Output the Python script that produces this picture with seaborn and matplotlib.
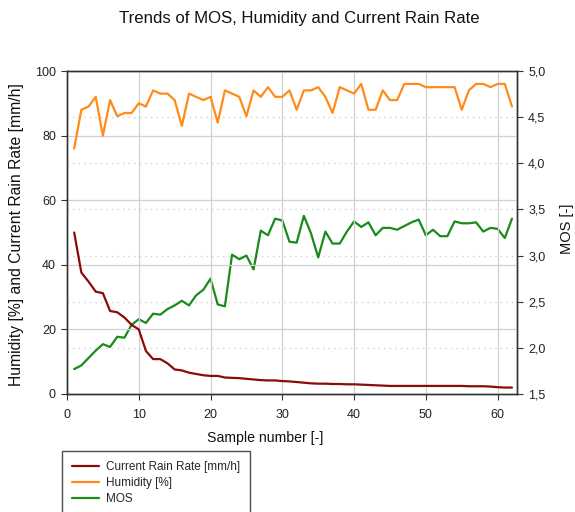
import numpy as np
import pandas as pd
import matplotlib
matplotlib.use("Agg")
import matplotlib.pyplot as plt
import matplotlib.ticker as mticker
import seaborn as sns

sns.set_style("ticks")
plt.rcParams['font.family'] = ['Liberation Sans', 'DejaVu Sans']

# values
samples = list(range(1, 63))
humidity = [76, 88, 89, 92, 80, 91, 86, 87, 87, 90,
            89, 94, 93, 93, 91, 83, 93, 92, 91, 92,
            84, 94, 93, 92, 86, 94, 92, 95, 92, 92,
            94, 88, 94, 94, 95, 92, 87, 95, 94, 93,
            96, 88, 88, 94, 91, 91, 96, 96, 96, 95,
            95, 95, 95, 95, 88, 94, 96, 96, 95, 96,
            96, 89]
rain_rate = [50.0, 37.6, 34.8, 31.7, 31.2, 25.7, 25.3, 23.7, 21.4, 20.0,
             13.3, 10.8, 10.8, 9.5, 7.6, 7.3, 6.6, 6.2, 5.8, 5.6,
             5.6, 5.1, 5.0, 4.9, 4.7, 4.5, 4.3, 4.2, 4.2, 4.0,
             3.9, 3.7, 3.5, 3.3, 3.2, 3.2, 3.1, 3.1, 3.0, 3.0,
             2.9, 2.8, 2.7, 2.6, 2.5, 2.5, 2.5, 2.5, 2.5, 2.5,
             2.5, 2.5, 2.5, 2.5, 2.5, 2.4, 2.4, 2.4, 2.3, 2.1,
             2.0, 2.0]
mos = [1.77, 1.81, 1.89, 1.97, 2.04, 2.01, 2.12, 2.11, 2.25, 2.31,
       2.27, 2.37, 2.36, 2.42, 2.46, 2.51, 2.46, 2.57, 2.63, 2.75,
       2.47, 2.45, 3.01, 2.96, 3.00, 2.85, 3.27, 3.22, 3.40, 3.38,
       3.15, 3.14, 3.43, 3.24, 2.98, 3.26, 3.13, 3.13, 3.26, 3.37,
       3.31, 3.36, 3.22, 3.30, 3.30, 3.28, 3.32, 3.36, 3.39, 3.22,
       3.28, 3.21, 3.21, 3.37, 3.35, 3.35, 3.36, 3.26, 3.30, 3.29,
       3.19, 3.40]

df = pd.DataFrame({"sample": samples, "humidity": humidity,
                   "rain": rain_rate, "mos": mos})

c_rain = "#8b0a0a"
c_hum = "#ff8c1a"
c_mos = "#1a8a1a"

fig = plt.figure(figsize=(5.75, 5.12), dpi=100)
ax = fig.add_axes([67 / 575, 1 - 394 / 512, 450 / 575, 323 / 512])
ax2 = ax.twinx()

sns.lineplot(data=df, x="sample", y="rain", ax=ax, color=c_rain, lw=1.6,
             label="Current Rain Rate [mm/h]", legend=False)
sns.lineplot(data=df, x="sample", y="humidity", ax=ax, color=c_hum, lw=1.6,
             label="Humidity [%]", legend=False)
sns.lineplot(data=df, x="sample", y="mos", ax=ax2, color=c_mos, lw=1.6,
             label="MOS", legend=False)

ax.set_xlim(0, 62.7)
ax.set_ylim(0, 100)
ax2.set_ylim(1.5, 5.0)
ax.set_xticks(range(0, 61, 10))
ax.set_yticks(range(0, 101, 20))
ax2.set_yticks(np.arange(1.5, 5.01, 0.5))
ax2.yaxis.set_major_formatter(mticker.FuncFormatter(lambda v, p: f"{v:.1f}".replace(".", ",")))

# grids: solid for left axis / x, dotted for MOS
ax.grid(True, color="#d0d0d0", lw=0.9, ls="-")
ax2.grid(True, axis="y", color="#d0d0d0", lw=1.0, ls=(0, (1, 3)))
ax.set_axisbelow(True)
ax2.set_zorder(ax.get_zorder() - 1)
ax.patch.set_visible(False)

for a in (ax, ax2):
    for s in a.spines.values():
        s.set_color("#333333")
        s.set_linewidth(1.0)
    a.tick_params(direction="out", length=4, width=0.8, colors="#333333",
                  labelsize=9, labelcolor="#222222", pad=4)
ax.tick_params(axis="x", pad=7)

ax.set_xlabel("")
ax.set_ylabel("")
ax2.set_ylabel("")

fig.text(299 / 575, 1 - 18 / 512, "Trends of MOS, Humidity and Current Rain Rate",
         ha="center", va="center", fontsize=12.1, color="#111111")
fig.text(265 / 575, 1 - 438 / 512, "Sample number [-]",
         ha="center", va="center", fontsize=10.2, color="#111111")
fig.text(17 / 575, 1 - 235 / 512, "Humidity [%] and Current Rain Rate [mm/h]",
         ha="center", va="center", rotation=90, fontsize=11.3, color="#111111")
fig.text(567 / 575, 1 - 229 / 512, "MOS [-]",
         ha="center", va="center", rotation=90, fontsize=10.5, color="#111111")

h1, l1 = ax.get_legend_handles_labels()
h2, l2 = ax2.get_legend_handles_labels()
leg = fig.legend(h1 + h2, l1 + l2, loc="upper left",
                 bbox_to_anchor=(62 / 575, 1 - 451 / 512), fontsize=8.5,
                 frameon=True, fancybox=False, edgecolor="#222222",
                 borderaxespad=0, handlelength=2.3, handletextpad=0.6,
                 labelspacing=0.35, borderpad=0.85)
leg.get_frame().set_linewidth(1.0)

fig.savefig("out.png", dpi=100)
